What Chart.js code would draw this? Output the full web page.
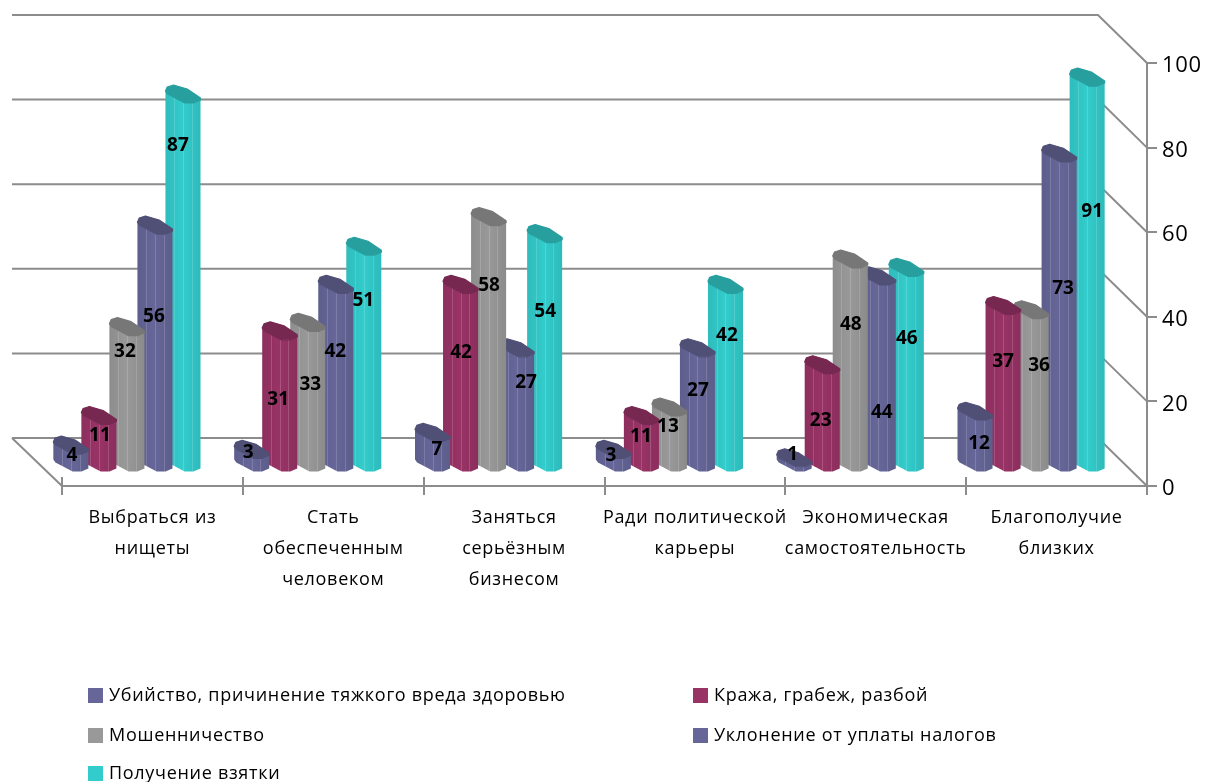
<!DOCTYPE html>
<html lang="ru"><head><meta charset="utf-8">
<style>html,body{margin:0;padding:0;background:#fff}canvas{display:block}</style>
<script src="https://cdn.jsdelivr.net/npm/chart.js@4"></script>
</head><body><canvas id="c" width="1205" height="782"></canvas>
<script>
const categories = [
  ["Выбраться из","нищеты"],
  ["Стать","обеспеченным","человеком"],
  ["Заняться","серьёзным","бизнесом"],
  ["Ради политической","карьеры"],
  ["Экономическая","самостоятельность"],
  ["Благополучие","близких"]
];
const seriesNames = ["Убийство, причинение тяжкого вреда здоровью","Кража, грабеж, разбой","Мошенничество","Уклонение от уплаты налогов","Получение взятки"];
const murder = [4,3,7,3,1,12];
const theft  = [11,31,42,11,23,37];
const fraud  = [32,33,58,13,48,36];
const taxes  = [56,42,27,27,44,73];
const bribes = [87,51,54,42,46,91];
const seriesColors = ["#666699","#993366","#999999","#666699","#33CCCC"];
const yTicks = [0,20,40,60,80,100];

// data label nudges, in px from the top centre of each bar
const labelDx = [
  [-24.5,-29,-21,-28,-27,-21.5],
  [-24.5,-27,-25,-26,-27,-25.5],
  [-27.5,-23,-25,-27,-25,-17.5],
  [-26.5,-26,-16,-25,-22,-21.5],
  [-30.5,-26,-25,-24,-25,-20.5]];
const labelDy = [
  [-14,-22,-8,-19,-28,7],
  [-4.5,44,43,-4,31,31],
  [0,37,44,-5,41,31],
  [66,42,10,18,112,110],
  [27,29,53,26,46,110]];

const FONT = '"Open Sans", sans-serif';
const LINE = '#8c8c8c';
const TRACKING = '0.7px';
const DEPTH_X = 49, DEPTH_Y = 48;   // wall depth
const BAR_SHIFT_X = -25.5, BAR_TOP_SHIFT_Y = -15, BAR_BASE_SHIFT_Y = -13.5, BAR_WIDEN = 1.25;

function shade(hex, f){
  const n = parseInt(hex.slice(1),16);
  const c = [n>>16, (n>>8)&255, n&255].map(v=>Math.max(0,Math.min(255,Math.round(v*f))));
  return `rgb(${c[0]},${c[1]},${c[2]})`;
}
// Columns are extruded polygons: the section is a slanted rounded shape as in the picture.
const FRONT = [[0,-12],[0.06,-9],[0.28,-5],[0.55,0],[0.8,0],[1,-3]];
const BACK  = [[1,-5],[0.62,-14],[0.23,-18],[0.05,-16]];
Chart.BarElement.prototype.draw = function(ctx){
  const p = this.getProps(['x','y','base','width']);
  const col = this.options.backgroundColor;
  const W = p.width*BAR_WIDEN, L = p.x + BAR_SHIFT_X - W/2;
  const yb = p.base + BAR_BASE_SHIFT_Y, yt = p.y + BAR_TOP_SHIFT_Y;
  ctx.save();
  // body
  ctx.beginPath();
  ctx.moveTo(L, yt-12);
  FRONT.forEach(q=>ctx.lineTo(L+q[0]*W, yt+q[1]));
  for(let i=FRONT.length-1;i>=0;i--){ const q=FRONT[i]; ctx.lineTo(L+q[0]*W, yb+q[1]); }
  ctx.closePath();
  const g = ctx.createLinearGradient(L,0,L+W,0);
  g.addColorStop(0,shade(col,0.92)); g.addColorStop(0.5,shade(col,1.0)); g.addColorStop(1,shade(col,0.91));
  ctx.fillStyle = g; ctx.fill();
  ctx.clip();
  ctx.strokeStyle = 'rgba(255,255,255,0.16)'; ctx.lineWidth = 1;
  [0.25,0.5,0.75].forEach(f=>{
    const fx = Math.round(L+f*W)+0.5;
    ctx.beginPath(); ctx.moveTo(fx,yt-20); ctx.lineTo(fx,yb+2); ctx.stroke();
  });
  ctx.restore();
  // cap
  ctx.beginPath();
  FRONT.forEach((q,i)=> i? ctx.lineTo(L+q[0]*W, yt+q[1]) : ctx.moveTo(L+q[0]*W, yt+q[1]));
  BACK.forEach(q=>ctx.lineTo(L+q[0]*W, yt+q[1]));
  ctx.closePath();
  ctx.fillStyle = shade(col,0.78); ctx.fill();
  ctx.save();
  ctx.strokeStyle = shade(col,0.78); ctx.lineJoin='round'; ctx.lineWidth=1.2; ctx.stroke();
  ctx.restore();
};

const wallsPlugin = {
  id:'walls',
  beforeDraw(chart){ chart.ctx.letterSpacing = TRACKING; },
  beforeDatasetsDraw(chart){
    const {ctx, chartArea:a, scales:{x,y}} = chart;
    ctx.save();
    ctx.strokeStyle = LINE; ctx.lineWidth = 2;
    yTicks.forEach(v=>{
      const py = y.getPixelForValue(v);
      ctx.beginPath();
      ctx.moveTo(a.left-DEPTH_X-1, py-DEPTH_Y);
      ctx.lineTo(a.right-DEPTH_X, py-DEPTH_Y);
      ctx.lineTo(a.right, py);
      ctx.stroke();
    });
    const y0 = y.getPixelForValue(0);
    ctx.beginPath(); ctx.moveTo(a.left-DEPTH_X-1,y0-DEPTH_Y); ctx.lineTo(a.left,y0); ctx.stroke();
    // upper half of the category ticks
    for(let i=0;i<=categories.length;i++){
      const tx = Math.round(a.left + i*(a.right-a.left)/categories.length);
      ctx.beginPath(); ctx.moveTo(tx,y0-9); ctx.lineTo(tx,y0); ctx.stroke();
    }
    ctx.restore();
  },
  afterDatasetsDraw(chart){
    const {ctx} = chart;
    ctx.save();
    ctx.letterSpacing = '0px';
    ctx.font = 'bold 19px '+FONT;
    ctx.fillStyle = '#000'; ctx.textAlign='center'; ctx.textBaseline='middle';
    chart.data.datasets.forEach((ds,s)=>{
      chart.getDatasetMeta(s).data.forEach((el,j)=>{
        ctx.fillText(String(ds.data[j]), el.x+labelDx[s][j], el.y+labelDy[s][j]+1);
      });
    });
    ctx.restore();
  },
  afterDraw(chart){
    const {ctx} = chart;
    const cols = [88,693], rows = [695.5,735.5,773.5];
    ctx.save();
    ctx.font = '18px '+FONT; ctx.textBaseline='middle'; ctx.textAlign='left';
    seriesNames.forEach((name,i)=>{
      const cx = cols[i%2], cy = rows[Math.floor(i/2)];
      ctx.fillStyle = seriesColors[i];
      ctx.fillRect(cx, cy-7.5, 15, 15);
      ctx.fillStyle = '#000';
      ctx.fillText(name, cx+21, cy);
    });
    ctx.restore();
  }
};

const allSeries = [murder,theft,fraud,taxes,bribes];
new Chart(document.getElementById('c'),{
  type:'bar',
  data:{
    labels:categories,
    datasets:allSeries.map((d,i)=>({label:seriesNames[i],data:d,backgroundColor:seriesColors[i],clip:false,
      barPercentage:1,categoryPercentage:0.775}))
  },
  options:{
    responsive:false, animation:false,
    layout:{padding:{left:62,top:63,right:0,bottom:0}},
    plugins:{legend:{display:false},tooltip:{enabled:false}},
    scales:{
      x:{
        grid:{drawOnChartArea:false,color:LINE,tickColor:LINE,tickLength:9,lineWidth:2},
        border:{color:LINE,width:2},
        ticks:{autoSkip:false,maxRotation:0,minRotation:0,color:'#000',padding:7,
          font:{family:FONT,size:18,lineHeight:1.72}},
        afterFit(s){s.height=296;}
      },
      y:{
        position:'right',min:0,max:100,
        grid:{drawOnChartArea:false,color:LINE,tickColor:LINE,tickLength:10,lineWidth:2},
        border:{color:LINE,width:2},
        ticks:{stepSize:20,color:'#000',padding:5,font:{family:FONT,size:22}},
        afterFit(s){
          s.width=58;
          // nudge the tick labels onto the tick marks' optical centre
          const base = Object.getPrototypeOf(s)._computeLabelItems;
          s._computeLabelItems = function(ca){
            const items = base.call(this,ca);
            items.forEach(it=>{ it.options.translation[1] += 3; });
            return items;
          };
        }
      }
    }
  },
  plugins:[wallsPlugin]
});
</script></body></html>
